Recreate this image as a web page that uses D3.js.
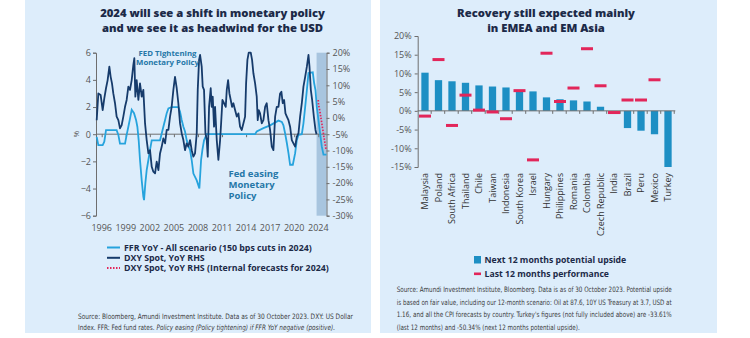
<!DOCTYPE html>
<html>
<head>
<meta charset="utf-8">
<script src="https://cdnjs.cloudflare.com/ajax/libs/d3/7.8.5/d3.min.js"></script>
<style>
    body { margin: 0; background: #ffffff; }
    svg { display: block; font-family: "Open Sans", "DejaVu Sans", sans-serif; }
    .axis text { fill: #555; font-size: 9px; font-family: "Open Sans", sans-serif; }
    .axis path, .axis line { stroke: #6e6e6e; }
</style>
</head>
<body>
<script>
// ---------- left chart data (year, value) ----------
const ffr = [
    [1995.39,-0.2],[1995.6,-0.8],[1996.16,-0.8],[1996.37,-0.55],[1996.59,0.3],[1997.96,0.3],
    [1998.18,-0.05],[1998.39,-0.7],[1999.04,-0.7],[1999.25,-0.05],[1999.47,0.55],[1999.68,1.15],
    [1999.9,1.8],[2000.2,1.55],[2000.46,1.05],[2000.63,0.55],[2000.8,-0.45],[2000.97,-1.9],
    [2001.19,-3.4],[2001.4,-4.6],[2001.49,-4.85],[2001.66,-3.6],[2001.83,-2.65],[2002.05,-1.9],
    [2002.26,-1.15],[2002.48,-0.45],[2003.55,-0.45],[2003.77,0.05],[2003.98,0.55],[2004.2,1.05],
    [2004.41,1.55],[2004.63,1.9],[2005.05,2.0],[2005.91,2.0],[2006.13,1.65],[2006.34,1.05],
    [2006.56,0.55],[2006.77,0.2],[2006.99,-0.45],[2007.2,-0.9],[2007.42,-1.15],[2007.63,-1.9],
    [2007.85,-2.9],[2008.28,-3.4],[2008.62,-4.0],[2008.84,-1.9],[2009.01,-1.15],[2009.22,-0.45],
    [2009.57,0],[2015.8,0],[2016.01,0.2],[2016.87,0.45],[2017.73,0.65],[2018.81,1.0],
    [2019.24,0.9],[2019.45,0.65],[2019.67,0.05],[2019.89,-0.65],[2020.1,-1.4],[2020.31,-2.25],
    [2020.66,-2.25],[2020.96,-1.4],[2021.17,-0.45],[2021.39,-0.05],[2021.82,0],[2022.03,0.8],
    [2022.25,2.0],[2022.47,3.25],[2022.68,4.5],[2023.23,4.55],[2023.41,3.75],[2023.58,3.25],
    [2023.75,2.0],[2023.96,1.05],[2024.18,0.05],[2024.39,-0.9],[2024.61,-1.5],[2025.0,-1.5]
];
const dxy = [
    [1995.39,-0.7],[1995.6,7.5],[1995.9,7.0],[1996.16,2.4],[1996.37,6.0],[1996.59,9.1],
    [1996.8,11.6],[1997.02,15.7],[1997.19,12.6],[1997.36,10.6],[1997.53,7.5],[1997.75,4.5],
    [1997.96,0.4],[1998.18,-0.7],[1998.39,-3.2],[1998.61,-2.2],[1998.82,0.4],[1999.04,3.4],
    [1999.25,5.5],[1999.47,9.6],[1999.68,8.6],[1999.9,11.6],[2000.11,16.2],[2000.24,18.3],
    [2000.37,6.5],[2000.54,11.6],[2000.76,5.5],[2000.97,10.6],[2001.19,6.5],[2001.4,8.6],
    [2001.62,-1.7],[2001.83,-6.8],[2002.05,-10.9],[2002.26,-9.9],[2002.48,-15.0],[2002.69,-16.5],
    [2002.91,-17.0],[2003.12,-13.4],[2003.34,-16.0],[2003.55,-10.9],[2003.77,-8.8],[2003.98,-6.3],
    [2004.2,-7.8],[2004.41,-3.7],[2004.63,-3.7],[2004.84,0.4],[2005.05,3.4],[2005.27,8.6],
    [2005.48,12.6],[2005.7,9.1],[2005.91,4.5],[2006.13,-1.7],[2006.34,-4.7],[2006.56,-6.8],
    [2006.77,-9.9],[2006.99,-7.8],[2007.2,-8.8],[2007.42,-6.8],[2007.63,-9.9],[2007.85,-11.9],
    [2008.06,-10.9],[2008.28,-4.7],[2008.41,8.6],[2008.58,17.8],[2008.71,19.3],[2008.92,15.7],
    [2009.05,9.6],[2009.22,8.6],[2009.4,-4.7],[2009.57,-6.8],[2009.7,-11.9],[2009.87,3.4],
    [2010.08,9.1],[2010.21,3.4],[2010.34,6.5],[2010.51,-2.7],[2010.64,3.4],[2010.86,-6.8],
    [2011.07,-12.9],[2011.29,-6.8],[2011.42,-1.7],[2011.59,5.5],[2011.8,4.5],[2012.02,3.4],
    [2012.15,8.6],[2012.32,11.6],[2012.49,7.5],[2012.66,5.5],[2012.83,3.4],[2013.0,4.5],
    [2013.22,2.4],[2013.44,0.4],[2013.65,1.4],[2013.86,-2.7],[2014.08,-3.7],[2014.29,-1.7],
    [2014.51,0.4],[2014.64,10.6],[2014.81,17.8],[2014.98,20.0],[2015.24,20.0],[2015.41,17.8],
    [2015.58,13.7],[2015.8,10.6],[2016.01,6.5],[2016.14,-0.7],[2016.27,2.4],[2016.44,1.4],
    [2016.66,-1.7],[2016.87,-0.7],[2017.09,3.4],[2017.3,4.5],[2017.52,-0.7],[2017.73,-3.7],
    [2017.95,-8.8],[2018.16,-9.9],[2018.38,0.4],[2018.59,3.4],[2018.81,3.4],[2019.02,7.5],
    [2019.19,8.0],[2019.36,4.5],[2019.54,5.5],[2019.71,1.4],[2019.89,0.4],[2020.1,-0.7],
    [2020.31,-2.7],[2020.53,-6.8],[2020.74,-7.8],[2020.96,-8.8],[2021.17,-5.8],[2021.39,-4.7],
    [2021.6,0.4],[2021.82,4.5],[2022.03,9.6],[2022.25,12.6],[2022.47,15.7],[2022.68,19.3],
    [2022.81,15.7],[2022.98,8.6],[2023.15,5.5],[2023.37,0.4],[2023.58,-3.7],[2023.71,-5.0]
];
const dxyForecast = [
    [2023.93,5.5],[2023.98,4.0],[2024.15,2.0],[2024.35,-1.0],[2024.55,-4.0],[2024.75,-7.0],[2024.95,-9.8]
];
const forecastStart = 2023.72;
const yearLabels = ["1996","1999","2002","2005","2008","2011","2014","2017","2020","2024"];
const leftTicks = [-6, -4, -2, 0, 2, 4, 6];
const rightTicks = [-30, -25, -20, -15, -10, -5, 0, 5, 10, 15, 20];

// ---------- right chart data ----------
const countries = ["Malaysia","Poland","South Africa","Thailand","Chile","Taiwan","Indonesia",
    "South Korea","Israel","Hungary","Philippines","Romania","Colombia","Czech Republic",
    "India","Brazil","Peru","Mexico","Turkey"];
const upside = [10.2, 8.2, 7.9, 7.5, 6.8, 6.5, 6.25, 5.5, 5.2, 3.6, 3.1, 2.8, 2.5, 1.1, 0, -4.6, -5.3, -6.25, -15];
const last12 = [-1.4, 13.7, -3.9, 4.2, 0.2, -0.3, -2.1, 5.4, -13.1, 15.4, 2.5, 6.1, 16.6, 6.7, -0.45, 2.9, 2.9, 8.3, null];
const pctTicks = [-15, -10, -5, 0, 5, 10, 15, 20];

const C = {
    panel: "#ddedfb", title: "#1c2a48", navy: "#163b6b", sky: "#26a3dd",
    red: "#e2265a", bar: "#1d8fc4", band: "#a8c5df", note: "#2577a8", src: "#3b3b3b"
};

const svg = d3.select("body").append("svg").attr("width", 750).attr("height", 338);
svg.append("rect").attr("x", 25).attr("y", 0).attr("width", 346).attr("height", 333).attr("fill", C.panel);
svg.append("rect").attr("x", 380).attr("y", 0).attr("width", 337).attr("height", 333).attr("fill", C.panel);

// scale a text's font so it spans the width seen in the picture
function fit(sel, w) {
    const n = sel.node();
    const fs = parseFloat(sel.attr("font-size"));
    sel.attr("font-size", fs * w / n.getComputedTextLength());
    return sel;
}
function title(lines, cx, w) {
    const t = lines.map((s, i) => svg.append("text")
        .attr("x", cx).attr("y", 17 + i * 14.5)
        .attr("text-anchor", "middle").attr("font-size", 12).attr("font-weight", 800)
        .attr("fill", C.title).text(s));
    fit(t[0], w);
    t.slice(1).forEach(s => s.attr("font-size", t[0].attr("font-size")));
}

// ================= LEFT CHART =================
title(["2024 will see a shift in monetary policy", "and we see it as headwind for the USD"], 212.5, 225);

const x = d3.scaleLinear().domain([1995.3, 2025.0]).range([96, 326.5]);
const yL = d3.scaleLinear().domain([-6, 6]).range([215.7, 52.7]);
const yR = d3.scaleLinear().domain([-30, 20]).range([215.7, 52.7]);
const xLab = d3.scalePoint().domain(yearLabels).range([101.7, 318.3]);

svg.append("rect")
    .attr("x", x(forecastStart)).attr("y", yL(6))
    .attr("width", x(2025.0) - x(forecastStart)).attr("height", yL(-6) - yL(6))
    .attr("fill", C.band);

svg.append("g").attr("class", "axis").attr("transform", "translate(96,0)")
    .call(d3.axisLeft(yL).tickValues(leftTicks).tickSize(3).tickPadding(2));
svg.append("g").attr("class", "axis").attr("transform", "translate(326.5,0)")
    .call(d3.axisRight(yR).tickValues(rightTicks).tickSize(3).tickPadding(3).tickFormat(d => d + "%"));

// zero line with small ticks
svg.append("g").attr("class", "axis").attr("transform", `translate(0,${yL(0)})`)
    .call(d3.axisBottom(xLab).tickSize(3).tickSizeOuter(0).tickFormat(""))
    .call(g => g.select(".domain").attr("d", `M96,0H326.5`));

svg.append("g").attr("class", "axis")
    .selectAll("text").data(yearLabels).join("text")
    .attr("x", d => xLab(d)).attr("y", 231)
    .attr("text-anchor", "middle").text(d => d);

svg.append("text").attr("transform", `translate(79,${yL(0)}) rotate(-90)`)
    .attr("text-anchor", "middle").attr("font-size", 8).attr("fill", "#555").text("%");

const lineL = d3.line().x(d => x(d[0])).y(d => yL(d[1]));
const lineR = d3.line().x(d => x(d[0])).y(d => yR(d[1]));

svg.append("path").datum(ffr).attr("d", lineL)
    .attr("fill", "none").attr("stroke", C.sky).attr("stroke-width", 1.8);
svg.append("path").datum(dxy).attr("d", lineR)
    .attr("fill", "none").attr("stroke", C.navy).attr("stroke-width", 1.8).attr("stroke-linejoin", "round");
svg.append("path").datum(dxyForecast).attr("d", lineR)
    .attr("fill", "none").attr("stroke", C.red).attr("stroke-width", 1.7).attr("stroke-dasharray", "1.5,1.5");

// annotations
svg.selectAll(".tight").data(["FED Tightening", "Monetary Policy"]).join("text")
    .attr("x", 167.5).attr("y", (d, i) => 55.5 + i * 9)
    .attr("text-anchor", "middle").attr("font-size", 7.8).attr("font-weight", 700)
    .attr("fill", C.note).text(d => d);
svg.selectAll(".ease").data(["Fed easing", "Monetary", "Policy"]).join("text")
    .attr("x", 228.5).attr("y", (d, i) => 177 + i * 11)
    .attr("font-size", 9.5).attr("font-weight", 700)
    .attr("fill", C.note).text(d => d);

// legend
const legL = [
    { label: "FFR YoY - All scenario (150 bps cuts in 2024)", color: C.sky, dash: null },
    { label: "DXY Spot, YoY RHS", color: C.navy, dash: null },
    { label: "DXY Spot, YoY RHS (Internal forecasts for 2024)", color: C.red, dash: "1.5,1.5" }
];
const lg = svg.append("g").selectAll("g").data(legL).join("g")
    .attr("transform", (d, i) => `translate(0,${250.5 + i * 10.3})`);
lg.append("line").attr("x1", 107).attr("x2", 120).attr("y1", -3).attr("y2", -3)
    .attr("stroke", d => d.color).attr("stroke-width", 2).attr("stroke-dasharray", d => d.dash);
const lgt = lg.append("text").attr("x", 124).attr("font-size", 8.5).attr("font-weight", 700)
    .attr("fill", C.title).text(d => d.label);
fit(d3.select(lgt.nodes()[0]), 188);
lgt.attr("font-size", d3.select(lgt.nodes()[0]).attr("font-size"));

// source
const srcFont = "'DejaVu Sans Condensed', 'Liberation Sans Narrow', sans-serif";
svg.append("text").attr("x", 78).attr("y", 318.5).attr("font-size", 7.4).attr("font-family", srcFont)
    .attr("fill", C.src).attr("textLength", 275).attr("lengthAdjust", "spacingAndGlyphs")
    .text("Source: Bloomberg, Amundi Investment Institute. Data as of 30 October 2023. DXY: US Dollar");
const s2 = svg.append("text").attr("x", 78).attr("y", 330).attr("font-size", 7.4).attr("font-family", srcFont)
    .attr("fill", C.src).attr("textLength", 257).attr("lengthAdjust", "spacingAndGlyphs");
s2.append("tspan").text("Index. FFR: Fed fund rates. ");
s2.append("tspan").attr("font-style", "italic").text("Policy easing (Policy tightening) if FFR YoY negative (positive).");

// ================= RIGHT CHART =================
title(["Recovery still expected mainly", "in EMEA and EM Asia"], 546, 178);

const xb = d3.scaleBand().domain(countries).range([417.7, 675.3]).paddingInner(0.46).paddingOuter(0.27);
const yb = d3.scaleLinear().domain([-15, 20]).range([167, 36]);

svg.append("g").attr("class", "axis").attr("transform", "translate(417.7,0)")
    .call(d3.axisLeft(yb).tickValues(pctTicks).tickSize(3).tickPadding(3).tickFormat(d => d + "%"));

const rows = countries.map((c, i) => ({ c, up: upside[i], last: last12[i] }));

svg.append("g").selectAll("rect").data(rows).join("rect")
    .attr("x", d => xb(d.c)).attr("width", xb.bandwidth())
    .attr("y", d => yb(Math.max(0, d.up)))
    .attr("height", d => Math.abs(yb(d.up) - yb(0)))
    .attr("fill", C.bar);

// zero axis with ticks at category boundaries
const bounds = d3.range(countries.length + 1).map(i => 417.7 + i * xb.step());
const zx = svg.append("g").attr("class", "axis");
zx.append("line").attr("x1", 417.7).attr("x2", 675.3).attr("y1", yb(0)).attr("y2", yb(0));
zx.selectAll(".t").data(bounds.slice(1)).join("line")
    .attr("x1", d => d).attr("x2", d => d).attr("y1", yb(0)).attr("y2", yb(0) + 3);

svg.append("g").selectAll("rect").data(rows.filter(d => d.last !== null)).join("rect")
    .attr("x", d => xb(d.c) + xb.bandwidth() / 2 - 6).attr("width", 12)
    .attr("y", d => yb(d.last) - 1.5).attr("height", 3)
    .attr("fill", C.red);

svg.append("g").selectAll("text").data(countries).join("text")
    .attr("transform", d => `translate(${xb(d) + xb.bandwidth() / 2},173) rotate(-90)`)
    .attr("dy", "0.35em").attr("text-anchor", "end")
    .attr("font-size", 9).attr("fill", "#333").text(d => d);

// legend
svg.append("rect").attr("x", 474).attr("y", 256).attr("width", 7).attr("height", 7.5).attr("fill", C.bar);
svg.append("rect").attr("x", 474).attr("y", 272.5).attr("width", 7).attr("height", 2.6).attr("fill", C.red);
const lr1 = svg.append("text").attr("x", 484.5).attr("y", 263).attr("font-size", 9).attr("font-weight", 700)
    .attr("fill", C.title).text("Next 12 months potential upside");
fit(lr1, 142);
svg.append("text").attr("x", 484.5).attr("y", 276.5).attr("font-size", lr1.attr("font-size")).attr("font-weight", 700)
    .attr("fill", C.title).text("Last 12 months performance");

const srcR = [
    ["Source: Amundi Investment Institute, Bloomberg. Data is as of 30 October 2023. Potential upside", 275],
    ["is based on fair value, including our 12-month scenario: Oil at 87.6, 10Y US Treasury at 3.7, USD at", 275],
    ["1.16, and all the CPI forecasts by country. Turkey's figures (not fully included above) are -33.61%", 275],
    ["(last 12 months) and -50.34% (next 12 months potential upside).", 183]
];
svg.append("g").selectAll("text").data(srcR).join("text")
    .attr("x", 396.7).attr("y", (d, i) => 292 + i * 12.5)
    .attr("font-size", 7.4).attr("font-family", srcFont).attr("fill", C.src)
    .attr("textLength", d => d[1]).attr("lengthAdjust", "spacingAndGlyphs")
    .text(d => d[0]);
</script>
</body>
</html>
